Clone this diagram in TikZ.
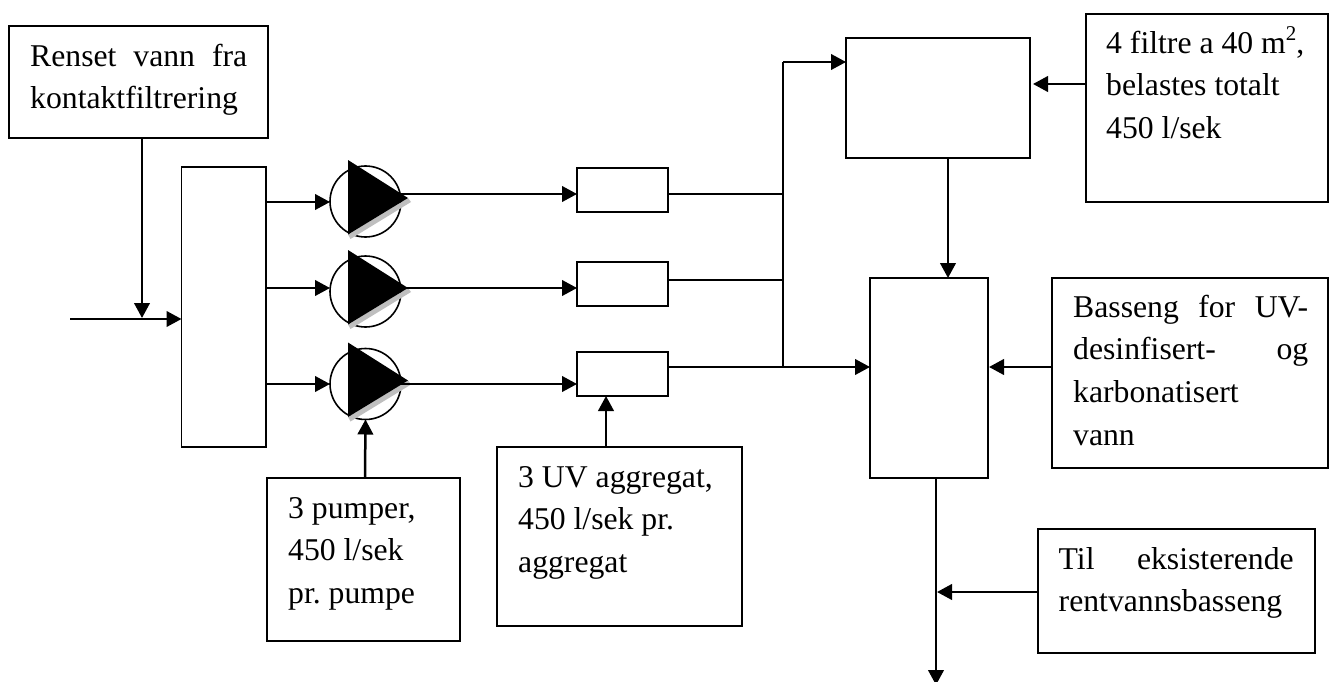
\documentclass[tikz,border=0pt]{standalone}
\usepackage{fontspec}
\setmainfont{Liberation Serif}
\usetikzlibrary{arrows.meta,calc}
\tikzset{
  x=1pt,y=-1pt,
  tb/.style={draw=black,line width=1.9pt,fill=white,outer sep=0pt,inner sep=0pt},
  lbl/.style={anchor=north west,inner sep=0pt,align=left,font=\fontsize{31.7}{42.7}\selectfont\frenchspacing},
  flow/.style={line width=2.5pt,-{Triangle[length=15pt,width=15.5pt]}},
  plain/.style={line width=1.6pt},
  pumpc/.style={circle,draw=black,line width=1.6pt,minimum size=71pt,inner sep=0pt,outer sep=0pt},
}
\newcommand{\jline}[2]{\makebox[#1pt][s]{#2}}
\newcommand{\fl}{\rule{0pt}{30pt}}
\newcommand{\boxat}[5]{\node[tb,anchor=north west,minimum width=#4pt-#2pt,minimum height=#5pt-#3pt] (#1) at (#2,#3) {};}
\newcommand{\pump}[3]{%
  \node[pumpc] (#1) at (#2,#3) {};
  \fill[black!25] ($(#1.center)+(-17.5,33)$) -- ($(#1.center)+(-15,37.5)$) -- ($(#1.center)+(45.5,0.5)$) -- ($(#1.center)+(42.5,-3.5)$) -- cycle;
  \fill[black] ($(#1.center)+(-17.5,-41.5)$) -- ($(#1.center)+(42.5,-3.5)$) -- ($(#1.center)+(-17.5,33)$) -- cycle;
}
\begin{document}
\begin{tikzpicture}
\useasboundingbox (0,0) rectangle (1330,682);
% boxes
\boxat{src}{9}{26}{268}{138}
\boxat{coll}{181.5}{167}{266}{447}
\boxat{uva}{577}{168}{668}{212}
\boxat{uvb}{577}{262}{668}{306}
\boxat{uvc}{577}{352}{668}{396}
\boxat{top}{846}{38}{1030}{158}
\boxat{mid}{870}{278}{988}{478}
\boxat{filt}{1086}{14}{1328}{202}
\boxat{bas}{1052}{278}{1328}{468}
\boxat{til}{1038}{529}{1315}{653}
\boxat{pp}{267}{478}{460}{641}
\boxat{uvt}{497}{447}{742}{626}
% pumps
\pump{pa}{365.5}{201.5}
\pump{pb}{365.5}{291.5}
\pump{pc}{365.5}{384}
% coordinates
\coordinate (in) at (70,319);
\coordinate (injoin) at (142,318);
\coordinate (out) at (936,685);
\coordinate (hub) at (783,367);
\coordinate (ia) at (0,202);
\coordinate (ib) at (0,288);
\coordinate (ic) at (0,384);
\coordinate (oa) at (0,194);
\coordinate (ob) at (0,288);
\coordinate (oc) at (0,384);
\coordinate (la) at (0,194);
\coordinate (lb) at (0,280);
\coordinate (ytop) at (0,62);
\coordinate (yfilt) at (0,84);
\coordinate (ytil) at (0,592);
\coordinate (xtop) at (948,0);
\coordinate (xuv) at (606,0);
\coordinate (xpp) at (365,0);
% connectors
\draw[flow] (in) -- (in -| coll.west);
\draw[flow] (src.south -| injoin) -- (injoin);
\draw[flow] (coll.east |- ia) -- (pa.west |- ia);
\draw[flow] (coll.east |- ib) -- (pb.west |- ib);
\draw[flow] (coll.east |- ic) -- (pc.west |- ic);
\draw[flow] (pa.east |- oa) -- (uva.west |- oa);
\draw[flow] (pb.east |- ob) -- (uvb.west |- ob);
\draw[flow] (pc.east |- oc) -- (uvc.west |- oc);
\draw[plain] (uva.east |- la) -- (hub |- la);
\draw[plain] (uvb.east |- lb) -- (hub |- lb);
\draw[flow] (uvc.east |- hub) -- (mid.west |- hub);
\draw[plain] (hub) -- (hub |- ytop);
\draw[flow] (hub |- ytop) -- (top.west |- ytop);
\draw[flow] (filt.west |- yfilt) -- ([xshift=3pt]top.east |- yfilt);
\draw[flow] (xtop |- top.south) -- (xtop |- mid.north);
\draw[flow] (bas.west |- hub) -- ([xshift=1pt]mid.east |- hub);
\draw[flow] (out |- mid.south) -- (out);
\draw[flow] (til.west |- ytil) -- ([xshift=1pt]out |- ytil);
\draw[flow] (xpp |- pp.north) -- (pc.south);
\draw[flow] (xuv |- uvt.north) -- (xuv |- uvc.south);
% text
\node[lbl] (t1) at (30,36) {\fl\jline{217}{Renset vann fra}\\kontaktfiltrering};
\node[lbl] (t2) at (1106,23) {\fl 4 filtre a 40 m\raisebox{13pt}{\fontsize{21}{21}\selectfont 2},\\belastes totalt\\450 l/sek};
\node[lbl] (t3) at (1073,287) {\fl\jline{235}{Basseng for UV-}\\\jline{235}{desinfisert- og}\\karbonatisert\\vann};
\node[lbl] (t4) at (1058.5,539) {\fl\jline{235}{Til eksisterende}\\rentvannsbasseng};
\node[lbl] (t5) at (288,488) {\fl 3 pumper,\\450 l/sek\\pr. pumpe};
\node[lbl] (t6) at (518,457) {\fl 3 UV aggregat,\\450 l/sek pr.\\aggregat};
\end{tikzpicture}
\end{document}
